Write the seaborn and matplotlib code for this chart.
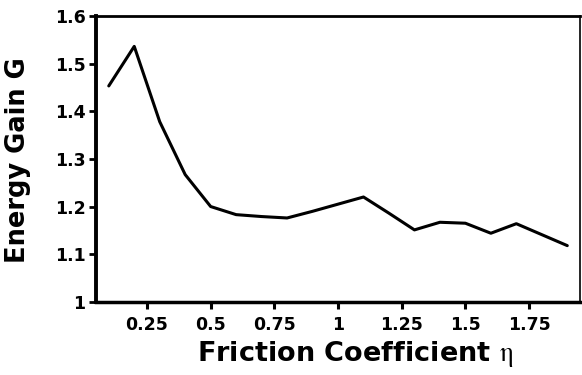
import matplotlib
matplotlib.use("Agg")
import matplotlib.pyplot as plt
import pandas as pd
import seaborn as sns

# ---- data ----
friction = [0.1, 0.2, 0.3, 0.4, 0.5, 0.6, 0.7, 0.8, 0.9, 1.0,
            1.1, 1.2, 1.3, 1.4, 1.5, 1.6, 1.7, 1.8, 1.9]
energy_gain = [1.453, 1.536, 1.378, 1.267, 1.200, 1.183, 1.179, 1.176, 1.190, 1.205,
               1.220, 1.186, 1.151, 1.167, 1.165, 1.144, 1.164, 1.141, 1.118]
x_ticks = [0.25, 0.5, 0.75, 1.0, 1.25, 1.5, 1.75]
x_tick_labels = ["0.25", "0.5", "0.75", "1", "1.25", "1.5", "1.75"]
y_ticks = [1.0, 1.1, 1.2, 1.3, 1.4, 1.5, 1.6]
y_tick_labels = ["1", "1.1", "1.2", "1.3", "1.4", "1.5", "1.6"]
x_label = r"Friction Coefficient $\mathrm{\eta}$"
y_label = "Energy Gain G"

df = pd.DataFrame({"friction": friction, "gain": energy_gain})

sns.set_theme(style="ticks")
plt.rcParams["font.family"] = ["DejaVu Sans"]
plt.rcParams["mathtext.fontset"] = "stix"

fig = plt.figure(figsize=(5.82, 3.75), dpi=100)
ax = fig.add_axes([0.165, 0.195, 0.8316, 0.7627])

sns.lineplot(data=df, x="friction", y="gain", ax=ax, color="black", linewidth=2.2)

ax.set_xlim(0.05, 1.95)
ax.set_ylim(1.0, 1.6)
ax.set_xticks(x_ticks)
ax.set_xticklabels(x_tick_labels)
ax.set_yticks(y_ticks)
ax.set_yticklabels(y_tick_labels)

for lab in ax.get_xticklabels() + ax.get_yticklabels():
    lab.set_fontweight("bold")
    lab.set_fontsize(12.5)

ax.tick_params(axis="x", direction="out", length=5, width=2.2, pad=5, colors="black")
ax.tick_params(axis="y", direction="out", length=5, width=2.0, pad=2.5, colors="black")

ax.spines["left"].set_linewidth(2.8)
ax.spines["bottom"].set_linewidth(2.5)
ax.spines["top"].set_linewidth(2.0)
ax.spines["right"].set_linewidth(1.2)
for s in ax.spines.values():
    s.set_color("black")

ax.set_xlabel(x_label, fontsize=19.5, fontweight="bold", color="black")
ax.set_ylabel(y_label, fontsize=18.5, fontweight="bold", color="black")
ax.xaxis.set_label_coords(0.535, -0.13)
ax.yaxis.set_label_coords(-0.135, 0.495)

fig.savefig("out.png", dpi=100, facecolor="white")
